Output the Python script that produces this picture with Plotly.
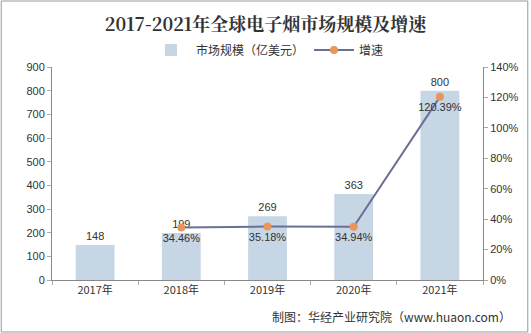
import plotly.graph_objects as go

years = ["2017年", "2018年", "2019年", "2020年", "2021年"]
market = [148, 199, 269, 363, 800]
growth_years = ["2018年", "2019年", "2020年", "2021年"]
growth = [34.46, 35.18, 34.94, 120.39]
left_ticks = [0, 100, 200, 300, 400, 500, 600, 700, 800, 900]
right_ticks = [0, 20, 40, 60, 80, 100, 120, 140]

W, H = 531, 333
ml, mr, mt, mb = 52, 46, 67, 53
pw, ph = W - ml - mr, H - mt - mb

font_cn = "Noto Sans CJK SC, Microsoft YaHei, sans-serif"
font_num = "Arial, Liberation Sans, sans-serif"

fig = go.Figure()
fig.add_trace(go.Bar(
    x=years, y=market, name="市场规模（亿美元）",
    marker=dict(color="#c6d6e5", line=dict(width=0)),
    width=0.45,
    text=[str(v) for v in market], textposition="outside",
    textfont=dict(size=11, color="#333333", family=font_num),
    cliponaxis=False,
))
fig.add_trace(go.Scatter(
    x=growth_years, y=growth, name="增速", yaxis="y2",
    mode="lines+markers+text",
    line=dict(color="#6a6f98", width=2),
    marker=dict(color="#e8965e", size=8),
    text=[f"{v:.2f}%" for v in growth], textposition="bottom center",
    textfont=dict(size=11, color="#333333", family=font_num),
    cliponaxis=False,
))

fig.update_layout(
    width=W, height=H,
    margin=dict(l=ml, r=mr, t=mt, b=mb),
    paper_bgcolor="white", plot_bgcolor="white",
    title=dict(text="<b>2017-2021年全球电子烟市场规模及增速</b>", x=0.5, xanchor="center",
               y=1 - 25 / H, yanchor="middle",
               font=dict(size=18, color="#333333", family="Noto Serif CJK SC, Noto Sans CJK SC, serif")),
    legend=dict(orientation="h", x=0.5, xanchor="center", y=1 + 17 / ph, yanchor="middle",
                font=dict(size=12, color="#333333", family=font_cn), bgcolor="rgba(0,0,0,0)",
                itemwidth=40),
    bargap=0.55,
    xaxis=dict(
        categoryorder="array", categoryarray=years,
        showline=True, linecolor="#888888", linewidth=1,
        ticks="outside", ticklen=4, tickcolor="#aaaaaa", tickson="boundaries",
        tickfont=dict(size=11, color="#333333", family=font_cn),
        showgrid=False, zeroline=False,
    ),
    yaxis=dict(
        range=[0, 900], tickmode="array", tickvals=left_ticks,
        showline=True, linecolor="#888888", linewidth=1,
        ticks="outside", ticklen=4, tickcolor="#aaaaaa",
        tickfont=dict(size=11, color="#333333", family=font_num),
        showgrid=False, zeroline=False,
    ),
    yaxis2=dict(
        range=[0, 140], tickmode="array", tickvals=right_ticks,
        ticktext=[f"{t}%" for t in right_ticks],
        overlaying="y", side="right",
        showline=True, linecolor="#888888", linewidth=1,
        ticks="outside", ticklen=4, tickcolor="#aaaaaa",
        tickfont=dict(size=11, color="#333333", family=font_num),
        showgrid=False, zeroline=False,
    ),
    shapes=[dict(type="rect", xref="paper", yref="paper",
                 x0=-(ml - 1) / pw, x1=1 + (mr - 1) / pw,
                 y0=-(mb - 1) / ph, y1=1 + (mt - 1) / ph,
                 line=dict(color="#999999", width=1), fillcolor="rgba(0,0,0,0)")],
    annotations=[dict(text="制图：华经产业研究院（www.huaon.com）", xref="paper", yref="paper",
                      x=1 + (mr - 16) / pw, xanchor="right", y=-(316 - mt - ph) / ph, yanchor="middle",
                      showarrow=False, font=dict(size=12, color="#333333", family=font_cn))],
)

fig.write_html("out.html")
